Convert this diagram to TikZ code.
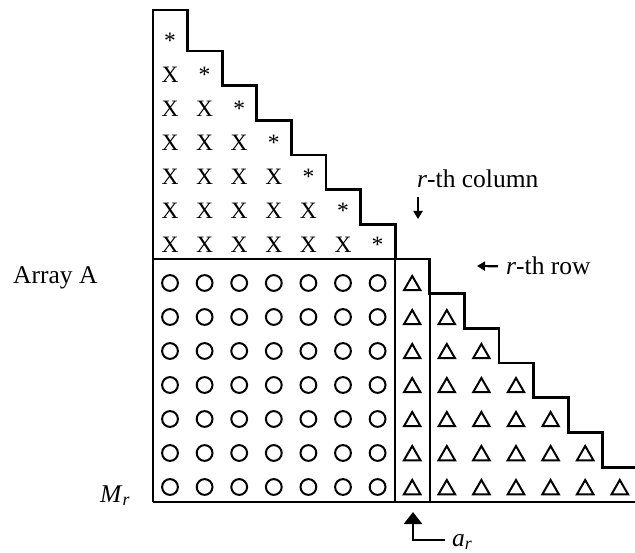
\documentclass[tikz,border=0pt]{standalone}
\usepackage{fontspec}
\setmainfont{Liberation Serif}
\usetikzlibrary{arrows.meta,shapes.geometric,positioning,calc}

\begin{document}
\begin{tikzpicture}[x=1pt,y=-1pt,
  edge/.style={line width=2.8pt, line join=miter},
  sepline/.style={line width=2.2pt},
  lbl/.style={font=\fontsize{25.5}{30}\selectfont, inner sep=0pt},
  sym/.style={font=\fontsize{23.5}{28}\selectfont, inner sep=0pt, anchor=base},
  circ/.style={circle, draw, line width=2pt, minimum size=15.8pt, inner sep=0pt},
  tri/.style={regular polygon, regular polygon sides=3, draw, line width=2pt,
    minimum size=19pt, inner sep=0pt},
  arr/.style={line width=2.2pt, -{Triangle[length=8pt,width=9pt]}},
  bigarr/.style={line width=2.6pt, -{Triangle[length=12pt,width=18pt]}}]
\useasboundingbox (0,0) rectangle (635,553);

% outline of array A
\draw[edge] (153,501.9) -- (153,10) -- (187.6,10) -- (187.6,51)
  -- (222.2,51) -- (222.2,85.7) -- (256.8,85.7) -- (256.8,120.3)
  -- (291.4,120.3) -- (291.4,155) -- (326,155) -- (326,189.7)
  -- (360.6,189.7) -- (360.6,224.3) -- (395.2,224.3) -- (395.2,259)
  -- (429.8,259) -- (429.8,293.7) -- (464.4,293.7) -- (464.4,328.4)
  -- (499,328.4) -- (499,363.1) -- (533.6,363.1) -- (533.6,397.8)
  -- (568.2,397.8) -- (568.2,432.5) -- (602.8,432.5) -- (602.8,467.2)
  -- (635,467.2);
\draw[edge] (635,501.9) -- (153,501.9);
\draw[edge] (153,259) -- (395.2,259);
\draw[sepline] (395.2,259) -- (395.2,501.9);
\draw[sepline] (429.8,293.7) -- (429.8,501.9);

% upper part: X and *
\foreach \r in {1,...,7} {
  \node[sym] (s-\r) at ({170+34.6*(\r-1)},{49+34*(\r-1)}) {*};
}
\foreach \r in {2,...,7} {
  \pgfmathtruncatemacro\last{\r-1}
  \foreach \c in {1,...,\last} {
    \node[sym] (x-\r-\c) at ({170+34.6*(\c-1)},{49+34*(\r-1)}) {X};
  }
}

% lower part: circles and triangles
\foreach \r in {1,...,7} {
  \foreach \c in {1,...,7} {
    \node[circ] (o-\r-\c) at ({170+34.6*(\c-1)},{283+34*(\r-1)}) {};
  }
  \node[tri] (t-\r-8) at (412.2,{285.5+34*(\r-1)}) {};
}
\foreach \r in {2,...,7} {
  \pgfmathtruncatemacro\last{7+\r}
  \foreach \c in {9,...,\last} {
    \node[tri] (t-\r-\c) at ({170+34.6*(\c-1)},{285.5+34*(\r-1)}) {};
  }
}

% labels
\node[lbl, anchor=base west] (arrayLbl) at (13,284) {Array A};
\node[lbl, anchor=base west] (mLbl) at (100,502) {\textit{M}\textsubscript{\textit{r}}};
\node[lbl, anchor=base west] (colLbl) at (417,188) {\textit{r}-th column};
\node[lbl, anchor=base west] (rowLbl) at (506,275) {\textit{r}-th row};
\node[lbl, anchor=base west] (arLbl) at (452,546) {\textit{a}\textsubscript{\textit{r}}};

\coordinate (colTip) at (418,219);
\coordinate (rowTip) at (477,266);
\coordinate (arTip) at (413,512);
\draw[arr] ($(colLbl.base west)+(1,9)$) -- (colTip);
\draw[arr] ($(rowLbl.west)+(-8,0)$) -- (rowTip);
\draw[bigarr] ($(arLbl.base west)+(-7,-6)$) -| (arTip);
\end{tikzpicture}
\end{document}
